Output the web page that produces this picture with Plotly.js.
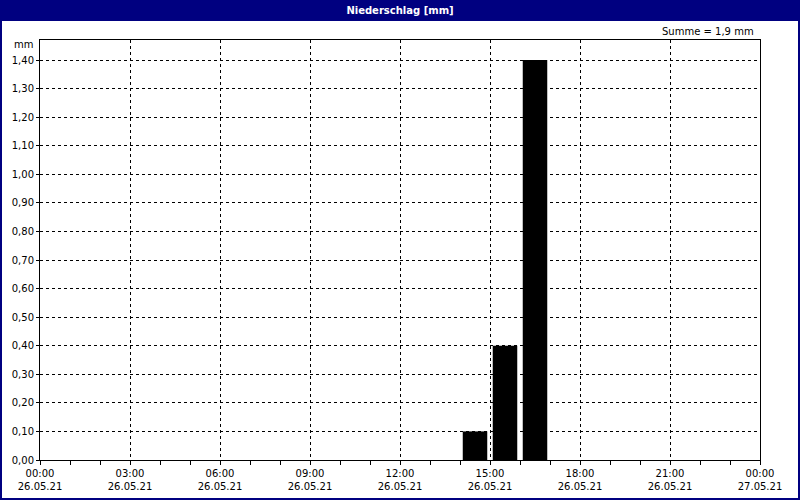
<!DOCTYPE html>
<html>
<head>
<meta charset="utf-8">
<script src="https://cdn.plot.ly/plotly-3.0.1.min.js"></script>
<style>html,body{margin:0;padding:0;background:#fff;}#chart{width:800px;height:500px;}</style>
</head>
<body>
<div id="chart"></div>
<script>
const barTimes = ['2021-05-26 14:30', '2021-05-26 15:30', '2021-05-26 16:30'];
const precip = [0.1, 0.4, 1.4];
const tickTimes = ['2021-05-26 00:00', '2021-05-26 03:00', '2021-05-26 06:00', '2021-05-26 09:00',
  '2021-05-26 12:00', '2021-05-26 15:00', '2021-05-26 18:00', '2021-05-26 21:00', '2021-05-27 00:00'];
const tickHours = ['00:00', '03:00', '06:00', '09:00', '12:00', '15:00', '18:00', '21:00', '00:00'];
const tickDates = ['26.05.21', '26.05.21', '26.05.21', '26.05.21', '26.05.21', '26.05.21', '26.05.21', '26.05.21', '27.05.21'];
const yTicks = [0, 0.1, 0.2, 0.3, 0.4, 0.5, 0.6, 0.7, 0.8, 0.9, 1.0, 1.1, 1.2, 1.3, 1.4];

const tickText = tickHours.map((h, i) => h + '<br>' + tickDates[i]);
const total = precip.reduce((a, b) => a + b, 0);
const navy = '#000080';
const W = 800, H = 500, mL = 40, mR = 40, mT = 40, mB = 40;
const pw = W - mL - mR, ph = H - mT - mB;
const px = v => (v - mL) / pw;
const py = v => (H - mB - v) / ph;

const trace = {
  type: 'bar',
  x: barTimes,
  y: precip,
  width: 49 * 60000,
  marker: {color: '#000000', line: {width: 0}},
  hoverinfo: 'x+y'
};

const layout = {
  width: W, height: H,
  margin: {l: mL, r: mR, t: mT, b: mB, pad: 0},
  paper_bgcolor: '#ffffff',
  plot_bgcolor: '#ffffff',
  separators: ',.',
  showlegend: false,
  font: {family: 'DejaVu Sans, Verdana, sans-serif', size: 10, color: '#000000'},
  title: {
    text: '<b>Niederschlag [mm]</b>',
    font: {color: '#ffffff', size: 10, family: 'DejaVu Sans, Verdana, sans-serif'},
    x: 0.5, xanchor: 'center', xref: 'container',
    y: 1 - 10.5 / H, yanchor: 'middle', yref: 'container'
  },
  xaxis: {
    type: 'date',
    range: ['2021-05-26 00:00', '2021-05-27 00:00'],
    tickmode: 'array',
    tickvals: tickTimes,
    ticktext: tickText,
    ticks: 'outside', ticklen: 4, tickcolor: '#000', tickwidth: 1,
    showline: true, linecolor: '#000', linewidth: 1, mirror: true,
    showgrid: true, gridcolor: '#000', gridwidth: 1, griddash: '3px,3px',
    minor: {dtick: 3600000, ticks: 'outside', ticklen: 4, tickcolor: '#000', showgrid: false},
    zeroline: false, fixedrange: true,
    tickfont: {size: 10}
  },
  yaxis: {
    range: [0, 1.47],
    tickmode: 'array',
    tickvals: yTicks,
    tickformat: '.2f',
    ticks: 'outside', ticklen: 3, tickcolor: '#000',
    showline: true, linecolor: '#000', linewidth: 1, mirror: true,
    showgrid: true, gridcolor: '#000', gridwidth: 1, griddash: '3px,3px',
    zeroline: false, fixedrange: true,
    tickfont: {size: 10}
  },
  shapes: [
    {type: 'rect', xref: 'paper', yref: 'paper', x0: px(0), x1: px(W), y0: py(21), y1: py(0),
      fillcolor: navy, line: {width: 0}, layer: 'below'},
    {type: 'rect', xref: 'paper', yref: 'paper', x0: px(1), x1: px(W - 1), y0: py(H - 1), y1: py(1),
      fillcolor: 'rgba(0,0,0,0)', line: {color: navy, width: 2}, layer: 'above'}
  ],
  annotations: [
    {text: 'mm', xref: 'paper', yref: 'paper', x: px(35), y: py(45), xanchor: 'right', yanchor: 'middle',
      showarrow: false, font: {size: 10}},
    {text: 'Summe = ' + total.toFixed(1).replace('.', ',') + ' mm', xref: 'paper', yref: 'paper',
      x: px(756), y: py(31), xanchor: 'right', yanchor: 'middle', showarrow: false, font: {size: 10}}
  ]
};

Plotly.newPlot('chart', [trace], layout, {displayModeBar: false, staticPlot: true});
</script>
</body>
</html>
